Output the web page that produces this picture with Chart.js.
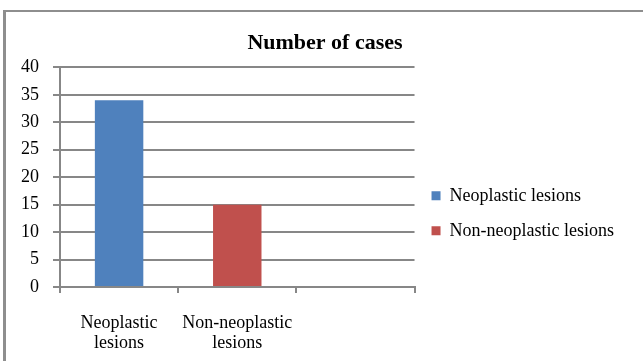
<!DOCTYPE html>
<html>
<head>
<meta charset="utf-8">
<script src="https://cdn.jsdelivr.net/npm/chart.js@4.4.1/dist/chart.umd.min.js"></script>
<style>
    html, body { margin: 0; background: #fff; overflow: hidden; }
    #moldura {
        position: absolute; left: 3px; top: 10px; width: 700px; height: 400px;
        border-left: 3px solid #8e8e8e; border-top: 2px solid #8e8e8e;
    }
    #grafico { position: absolute; left: 0; top: 0; }
</style>
</head>
<body>
<div id="moldura"></div>
<canvas id="grafico" width="643" height="361"></canvas>
<script>
// dados do grafico
const categorias = [['Neoplastic', 'lesions'], ['Non-neoplastic', 'lesions'], ''];
const neoplasicas = [34, null, null];
const naoNeoplasicas = [null, 15, null];
const nomesSeries = ['Neoplastic lesions', 'Non-neoplastic lesions'];
const eixoY = { min: 0, max: 40, passo: 5 };

const corGrade = '#878787';
Chart.defaults.font.family = "'Liberation Serif', 'Times New Roman', serif";
Chart.defaults.font.size = 18;
Chart.defaults.color = '#000';

// o titulo fica centrado um pouco mais para a direita
const ajusteTitulo = {
    id: 'ajusteTitulo',
    afterLayout: function (chart) {
        chart.titleBlock.left += 22;
    }
};

const ctx = document.getElementById('grafico').getContext('2d');
new Chart(ctx, {
    type: 'bar',
    data: {
        labels: categorias,
        datasets: [
            { label: nomesSeries[0], data: neoplasicas, backgroundColor: '#4f81bd' },
            { label: nomesSeries[1], data: naoNeoplasicas, backgroundColor: '#c0504d' }
        ]
    },
    options: {
        responsive: false,
        animation: false,
        layout: { padding: { left: 4, right: 19, top: 0, bottom: 11 } },
        datasets: {
            bar: { grouped: false, categoryPercentage: 0.41, barPercentage: 1 }
        },
        scales: {
            x: {
                afterFit: function (escala) { escala.height = 63; },
                grid: { drawOnChartArea: false, color: corGrade, lineWidth: 2, tickLength: 6, offset: true },
                border: { color: corGrade, width: 2 },
                ticks: { font: { size: 18, lineHeight: '20px' }, padding: 20, maxRotation: 0 }
            },
            y: {
                min: eixoY.min,
                max: eixoY.max,
                afterFit: function (escala) { escala.width = 56; },
                grid: { color: corGrade, lineWidth: 2, tickLength: 7 },
                border: { color: corGrade, width: 2 },
                ticks: { stepSize: eixoY.passo, padding: 14 }
            }
        },
        plugins: {
            title: {
                display: true,
                text: 'Number of cases',
                font: { size: 22, weight: 'bold' },
                padding: { top: 30, bottom: 11 }
            },
            legend: {
                position: 'right',
                maxWidth: 260, // senao a legenda fica limitada a 1/4 da largura
                // titulo vazio so para empurrar os itens para baixo
                title: { display: true, text: '', padding: { top: 0, bottom: 55 } },
                labels: { boxWidth: 9, boxHeight: 9, padding: 17 }
            },
            tooltip: { enabled: false }
        }
    },
    plugins: [ajusteTitulo]
});
</script>
</body>
</html>
